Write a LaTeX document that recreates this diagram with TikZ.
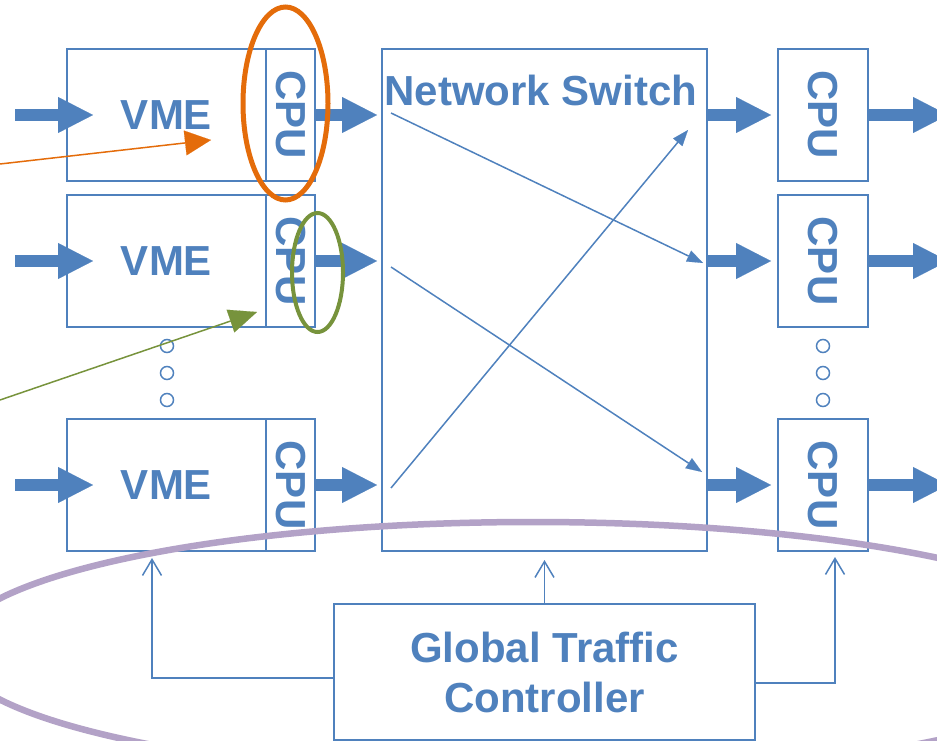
\documentclass[tikz,border=0pt]{standalone}
\usepackage{fontspec}
\setmainfont{Liberation Sans}
\usetikzlibrary{arrows.meta,calc}
\definecolor{bl}{RGB}{79,129,189}
\definecolor{orng}{RGB}{228,108,10}
\definecolor{olv}{RGB}{119,147,60}
\definecolor{purp}{RGB}{179,162,199}
\begin{document}
\begin{tikzpicture}[x=1pt,y=-1pt,
  box/.style={draw=bl,line width=2pt,inner sep=0pt,fill=none},
  lbl/.style={text=bl,inner sep=0pt,font=\fontsize{42pt}{50pt}\selectfont\bfseries},
  fat/.style={draw=bl,line width=12pt,-{Triangle[length=35pt,width=36pt,line width=0.1pt]}},
  thin/.style={draw=bl,line width=1.5pt,-{Triangle[length=16pt,width=12pt,line width=0.1pt]}},
  ctl/.style={draw=bl,line width=1.5pt,-{Straight Barb[length=16pt,width=19pt]}},
  dotc/.style={circle,draw=bl,line width=1.5pt,minimum size=13pt,inner sep=0pt},
  vme/.style={box,minimum width=199pt,minimum height=132pt},
  cpul/.style={box,minimum width=49pt,minimum height=132pt},
  cpur/.style={box,minimum width=90pt,minimum height=132pt}]
\useasboundingbox (0,0) rectangle (937,741);

% left VME + CPU boxes
\node[vme] (v1) at (166.5,115) {};
\node[vme] (v2) at (166.5,261) {};
\node[vme] (v3) at (166.5,485) {};
\node[cpul] (c1) at (290.5,115) {};
\node[cpul] (c2) at (290.5,261) {};
\node[cpul] (c3) at (290.5,485) {};
\node[lbl] (tv1) at (v1.center) {VME};
\node[lbl] (tv2) at (v2.center) {VME};
\node[lbl] (tv3) at (v3.center) {VME};
\node[lbl,rotate=-90] (tc1) at (c1.center) {CPU};
\node[lbl,rotate=-90] (tc2) at (c2.center) {CPU};
\node[lbl,rotate=-90] (tc3) at (c3.center) {CPU};

% switch
\node[box,minimum width=325pt,minimum height=502pt] (sw) at (544.5,300) {};
\node[lbl] (swt) at (541,90) {Network Switch};

% right CPUs
\node[cpur] (r1) at (823,115) {};
\node[cpur] (r2) at (823,261) {};
\node[cpur] (r3) at (823,485) {};
\node[lbl,rotate=-90] (tr1) at (r1.center) {CPU};
\node[lbl,rotate=-90] (tr2) at (r2.center) {CPU};
\node[lbl,rotate=-90] (tr3) at (r3.center) {CPU};

% dots
\node[dotc] (dl1) at (167,346) {};
\node[dotc] (dl2) at (167,373) {};
\node[dotc] (dl3) at (167,400) {};
\node[dotc] (dr1) at (823,346) {};
\node[dotc] (dr2) at (823,373) {};
\node[dotc] (dr3) at (823,400) {};

% global traffic controller
\node[box,lbl,minimum width=421pt,minimum height=136pt,align=center] (g) at (544.5,672) {Global Traffic\\Controller};

% switch internal lines
\coordinate (s1a) at (391,113); \coordinate (s1b) at (703,263);
\coordinate (s2a) at (391,267); \coordinate (s2b) at (702,472);
\coordinate (s3a) at (391,488); \coordinate (s3b) at (688,130);
\draw[thin] (s1a) -- (s1b);
\draw[thin] (s2a) -- (s2b);
\draw[thin] (s3a) -- (s3b);

% control connectors
\coordinate (ctlL) at (152,558);
\coordinate (ctlR) at (835,557);
\draw[ctl] (g.north) -- ($(sw.south)+(0,8)$);
\draw[ctl] ($(g.west)+(0,6)$) -| (ctlL);
\draw[ctl] ($(g.east)+(0,11)$) -| (ctlR);

% thick arrows
\coordinate (in1) at (15,115);
\coordinate (in2) at (15,261);
\coordinate (in3) at (15,485);
\coordinate (out1) at (948,115);
\coordinate (out2) at (948,261);
\coordinate (out3) at (948,485);
\draw[fat] (in1) -- ($(v1.west)+(27,0)$);
\draw[fat] (in2) -- ($(v2.west)+(27,0)$);
\draw[fat] (in3) -- ($(v3.west)+(27,0)$);
\draw[fat] (c1.east) -- ($(sw.west|-c1.east)+(-4,0)$);
\draw[fat] (c2.east) -- ($(sw.west|-c2.east)+(-4,0)$);
\draw[fat] (c3.east) -- ($(sw.west|-c3.east)+(-4,0)$);
\draw[fat] ($(sw.east|-r1.west)+(-2,0)$) -- ($(r1.west)+(-6,0)$);
\draw[fat] ($(sw.east|-r2.west)+(-2,0)$) -- ($(r2.west)+(-6,0)$);
\draw[fat] ($(sw.east|-r3.west)+(-2,0)$) -- ($(r3.west)+(-6,0)$);
\draw[fat] (r1.east) -- (out1);
\draw[fat] (r2.east) -- (out2);
\draw[fat] (r3.east) -- (out3);

% highlights
\draw[orng,line width=5pt] (285.5,103.5) ellipse [x radius=42.5pt,y radius=96.5pt];
\coordinate (oa) at (0,164); \coordinate (ob) at (211,140);
\draw[orng,line width=1.5pt,-{Triangle[length=26pt,width=25pt,line width=0.1pt]}] (oa) -- (ob);
\draw[olv,line width=4pt] (317.5,272.5) ellipse [x radius=25.5pt,y radius=59.5pt];
\coordinate (ga) at (0,400); \coordinate (gb) at (257,312);
\draw[olv,line width=1.5pt,-{Triangle[length=28pt,width=24pt,line width=0.1pt]}] (ga) -- (gb);
\draw[purp,line width=6.5pt] (533,649) ellipse [x radius=581pt,y radius=127pt];
\end{tikzpicture}
\end{document}
